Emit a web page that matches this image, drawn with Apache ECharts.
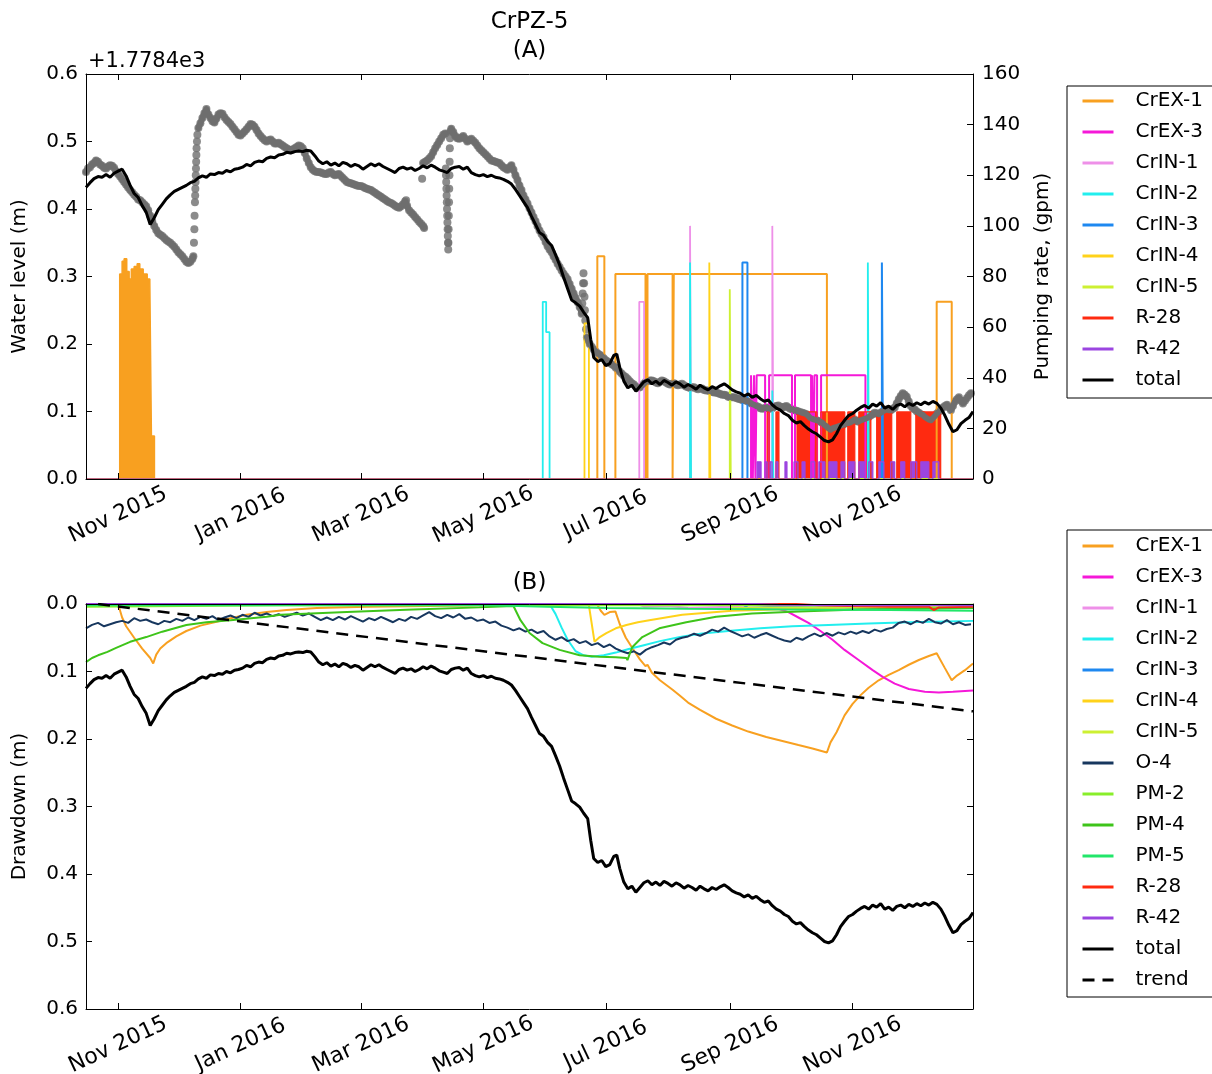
<!DOCTYPE html>
<html><head><meta charset="utf-8">
<script src="https://cdn.jsdelivr.net/npm/echarts@6/dist/echarts.min.js"></script>
<style>html,body{margin:0;padding:0;background:#fff}#c{width:1212px;height:1074px}</style>
</head><body><div id="c"></div>
<script>
// x values are days since 2015-10-16
const tickDays = [16, 77, 137, 198, 259, 321, 382];
const tickLabels = ['Nov 2015','Jan 2016','Mar 2016','May 2016','Jul 2016','Sep 2016','Nov 2016'];
const legendA = ['CrEX-1','CrEX-3','CrIN-1','CrIN-2','CrIN-3','CrIN-4','CrIN-5','R-28','R-42','total'];
const legendB = ['CrEX-1','CrEX-3','CrIN-1','CrIN-2','CrIN-3','CrIN-4','CrIN-5','O-4','PM-2','PM-4','PM-5','R-28','R-42','total','trend'];

// observed water level (m above 1778.4), panel A grey dots, by continuous segment
const obsSeg1 = [[0,.455],[1,.460],[2,.462],[3,.466],[4,.468],[5,.472],[6,.470],[7,.466],[8,.464],[9,.461],[10,.460],[11,.463],[12,.465],[13,.464],[14,.461],[15,.456],[16,.452],[17,.448],[18,.444],[19,.440],[20,.436],[21,.432],[22,.428],[23,.425],[24,.421],[25,.418],[26,.414],[27,.413],[28,.410],[29,.407],[30,.404],[31,.398],[32,.390],[33,.382],[34,.375],[35,.369],[36,.364],[37,.362],[38,.360],[39,.357],[40,.354],[41,.352],[42,.350],[43,.347],[44,.344],[45,.340],[46,.336],[47,.333],[48,.330],[49,.326],[50,.322],[51,.320],[52,.322],[53,.326],[53.5,.330]];
const obsJump1 = [[53.8,.35],[54,.37],[54.1,.39],[54.3,.41],[54.4,.42],[54.5,.43],[54.6,.44],[54.7,.45],[54.8,.46],[54.9,.47],[55,.48],[55.1,.49],[55.3,.50],[55.5,.51]];
const obsSeg2 = [[56,.520],[57,.527],[58,.535],[59,.542],[60,.548],[61,.540],[62,.535],[63,.530],[64,.528],[65,.534],[66,.540],[67,.542],[68,.541],[69,.536],[70,.532],[71,.529],[72,.526],[73,.522],[74,.518],[75,.514],[76,.510],[77,.509],[78,.512],[79,.515],[80,.518],[81,.522],[82,.526],[83,.525],[84,.522],[85,.517],[86,.512],[87,.508],[88,.505],[89,.502],[90,.500],[91,.502],[92,.503],[93,.500],[94,.497],[95,.497],[96,.498],[97,.496],[98,.494],[99,.492],[100,.490],[101,.488],[102,.487],[103,.488],[104,.490],[105,.492],[106,.494],[107,.493],[108,.490],[109,.483],[110,.475],[111,.468],[112,.462],[113,.458],[114,.456],[115,.455],[116,.455],[117,.454],[118,.453],[119,.452],[120,.452],[121,.454],[122,.455],[123,.452],[124,.450],[125,.451],[126,.452],[127,.449],[128,.446],[129,.443],[130,.440],[131,.439],[132,.438],[133,.437],[134,.436],[135,.435],[136,.434],[137,.434],[138,.433],[139,.431],[140,.430],[141,.429],[142,.428],[143,.426],[144,.424],[145,.422],[146,.420],[147,.418],[148,.416],[149,.414],[150,.412],[151,.410],[152,.409],[153,.407],[154,.405],[155,.403],[156,.402],[157,.404],[158,.407],[159,.411],[159.5,.413],[160,.405],[161,.398],[162,.395],[163,.392],[164,.388],[165,.385],[166,.381],[167,.378],[168,.375],[168.5,.372]];
const obsSeg3 = [[168,.468],[169,.470],[170,.472],[171,.475],[172,.478],[173,.484],[174,.490],[175,.495],[176,.500],[177,.505],[178,.510],[179,.512]];
const obsSpots = [[167.5,.445],
[179.3,.46],[179.4,.45],[179.5,.44],[179.6,.43],[179.7,.42],[179.8,.41],[179.9,.40],[180,.39],[180.1,.38],[180.2,.37],[180.3,.36],[180.4,.35],[180.5,.34],[180.6,.35],[180.7,.37],[180.8,.39],[180.9,.41],[181,.43],[181.1,.45],[181.2,.47],[181.3,.49],[181.4,.505],
[247.3,.26],[247.5,.275],[247.7,.29],[247.9,.305],[248.2,.29],[248.4,.27],[248.6,.25],[248.8,.235],[249.2,.222]];
const obsSeg4 = [[181.6,.515],[182,.519],[183,.514],[184,.508],[185,.505],[186,.504],[187,.506],[188,.508],[189,.504],[190,.500],[191,.502],[192,.504],[193,.501],[194,.498],[195,.494],[196,.490],[197,.487],[198,.484],[199,.481],[200,.478],[201,.475],[202,.472],[203,.471],[204,.470],[205,.469],[206,.468],[207,.465],[208,.462],[209,.460],[210,.458],[211,.462],[212,.465],[213,.458],[214,.450],[215,.443],[216,.435],[217,.428],[218,.420],[219,.414],[220,.408],[221,.401],[222,.395],[223,.388],[224,.382],[225,.375],[226,.368],[227,.363],[228,.358],[229,.351],[230,.345],[231,.340],[232,.336],[233,.330],[234,.325],[235,.319],[236,.314],[237,.309],[238,.304],[239,.300],[240,.296],[241,.289],[242,.282],[243,.275],[244,.268],[245,.262],[246,.255],[247,.245]];
const obsSeg5 = [[249.6,.210],[250,.206],[251,.200],[252,.196],[253,.192],[254,.189],[255,.186],[256,.184],[257,.182],[258,.179],[259,.176],[260,.174],[261,.172],[262,.170],[263,.168],[264,.165],[265,.162],[266,.159],[267,.156],[268,.153],[269,.151],[270,.148],[271,.145],[272,.142],[273,.140],[274,.137],[275,.135],[276,.136],[277,.138],[278,.141],[279,.144],[280,.145],[281,.146],[282,.146],[283,.145],[284,.143],[285,.142],[286,.144],[287,.146],[288,.145],[289,.143],[290,.141],[291,.140],[292,.141],[293,.142],[294,.140],[295,.139],[296,.140],[297,.141],[298,.139],[299,.137],[300,.136],[301,.135],[302,.136],[303,.136],[304,.134],[305,.133],[306,.134],[307,.134],[308,.132],[309,.131],[310,.131],[311,.130],[312,.129],[313,.128],[314,.128],[315,.127],[316,.126],[317,.125],[318,.125],[319,.124],[320,.122],[321,.121],[322,.121],[323,.121],[324,.120],[325,.119],[326,.118],[327,.117],[328,.117],[329,.116],[330,.115],[331,.113],[332,.111],[333,.110],[334,.108],[335,.107],[336,.105],[337,.104],[338,.105],[339,.106],[340,.105],[341,.104],[342,.105],[343,.107],[344,.108],[345,.109],[346,.107],[347,.106],[348,.107],[349,.108],[350,.106],[351,.104],[352,.103],[353,.102],[354,.101],[355,.100],[356,.099],[357,.098],[358,.097],[359,.096],[360,.093],[361,.090],[362,.089],[363,.088],[364,.087],[365,.086],[366,.085],[367,.083],[368,.080],[369,.078],[370,.075],[371,.073],[372,.075],[373,.076],[374,.077],[375,.078],[376,.079],[377,.080],[378,.082],[379,.083],[380,.083],[381,.084],[382,.086],[383,.088],[384,.086],[385,.085],[386,.087],[387,.088],[388,.089],[389,.090],[390,.092],[391,.094],[392,.096],[393,.098],[394,.097],[395,.096],[396,.098],[397,.100],[398,.102],[399,.103],[400,.102],[401,.102],[402,.104],[403,.106],[404,.112],[405,.118],[406,.123],[407,.127],[408,.125],[409,.122],[410,.115],[411,.108],[412,.105],[413,.103],[414,.100],[415,.098],[416,.096],[417,.095],[418,.092],[419,.090],[420,.088],[421,.087],[422,.090],[423,.093],[424,.097],[425,.100],[426,.103],[427,.106],[428,.108],[429,.110],[430,.106],[431,.102],[432,.108],[433,.115],[434,.118],[435,.121],[436,.116],[437,.112],[438,.116],[439,.120],[440,.124],[441,.127]];

// modelled total water level (panel A, m above 1778.4)
const totalLevel = [
[0,.432],[2,.439],[4,.445],[6,.448],[8,.447],[10,.451],[12,.447],[14,.453],[16,.456],[18,.459],[20,.449],[22,.435],[24,.423],[26,.417],[28,.405],[30,.395],[32,.377],[34,.387],[36,.399],[38,.407],[40,.415],[42,.421],[44,.426],[46,.429],[48,.432],[50,.435],[52,.439],[54,.441],[56,.446],[58,.449],[60,.447],[62,.452],[64,.451],[66,.454],[68,.453],[70,.457],[72,.455],[74,.459],[76,.460],[78,.462],[80,.466],[82,.464],[84,.469],[86,.471],[88,.470],[90,.475],[92,.477],[94,.476],[96,.480],[98,.481],[100,.484],[102,.483],[104,.485],[106,.486],[108,.485],[110,.487],[112,.486],[114,.479],[116,.471],[118,.467],[120,.470],[122,.465],[124,.468],[126,.464],[128,.469],[130,.467],[132,.463],[134,.466],[136,.464],[138,.459],[140,.463],[142,.467],[144,.464],[146,.467],[148,.463],[150,.460],[152,.457],[154,.454],[156,.460],[158,.462],[160,.459],[162,.461],[164,.457],[166,.460],[168,.464],[170,.461],[172,.465],[174,.462],[176,.458],[178,.456],[180,.454],[182,.460],[184,.462],[186,.463],[188,.459],[190,.462],[192,.454],[194,.451],[196,.449],[198,.451],[200,.448],[202,.450],[204,.447],[206,.446],[208,.444],[210,.441],[212,.437],[214,.429],[216,.420],[218,.411],[220,.402],[222,.389],[224,.377],[226,.365],[228,.361],[230,.352],[232,.346],[234,.332],[236,.317],[238,.299],[240,.282],[242,.265],[244,.261],[246,.256],[248,.247],[250,.239],[251.5,.207],[253,.180],[255,.174],[257,.177],[259,.168],[261,.171],[263,.183],[264.5,.185],[266,.165],[268,.145],[270,.135],[272,.139],[274,.130],[276,.137],[278,.144],[280,.147],[282,.141],[284,.145],[286,.140],[288,.146],[290,.143],[292,.139],[294,.144],[296,.141],[298,.136],[300,.140],[302,.137],[304,.133],[306,.139],[308,.135],[310,.132],[312,.137],[314,.134],[316,.138],[318,.141],[320,.137],[322,.132],[324,.129],[326,.127],[328,.123],[330,.126],[332,.121],[334,.124],[336,.119],[338,.115],[340,.117],[342,.110],[344,.105],[346,.102],[348,.097],[350,.094],[352,.087],[354,.083],[356,.085],[358,.079],[360,.074],[362,.070],[364,.067],[366,.062],[368,.057],[370,.055],[372,.058],[374,.067],[376,.079],[378,.087],[380,.094],[382,.097],[384,.102],[386,.106],[388,.109],[390,.105],[392,.111],[394,.108],[396,.113],[398,.105],[400,.108],[402,.103],[404,.109],[406,.111],[408,.107],[410,.112],[412,.109],[414,.113],[416,.110],[418,.114],[420,.111],[422,.115],[424,.112],[426,.105],[428,.094],[430,.081],[432,.070],[434,.073],[436,.082],[438,.087],[440,.091],[442,.100]
];

// pumping rates (gpm), step values held until next change
const pumpCrEX1 = [[0,0],[254.8,88],[258.3,0],[263.8,81],[278.8,0],[279.8,81],[292.3,0],[292.9,81],[369.2,0],[423.9,70],[431.4,0],[442,0]];
const pumpCrEX1Early = [[0,0],[16.8,81],[18,86],[19,87],[20.3,82],[21.5,79],[22.6,83],[24,84],[25.5,85],[26.8,83],[28.5,81],[30.5,79],[31.8,78],[32.6,17],[34.1,0],[442,0]];
const pumpCrEX3 = [[0,0],[331.4,41],[332.3,0],[332.9,41],[333.6,0],[334.2,41],[338.4,0],[340.4,41],[351.8,0],[353.3,41],[361.3,0],[361.8,41],[362.5,0],[363,41],[364.3,0],[366.3,41],[388.4,0],[442,0]];
const pumpCrIN1 = [[0,0],[275.7,70],[278.1,0],[301,100],[301.5,0],[342,100],[342.5,0],[442,0]];
const pumpCrIN2 = [[0,0],[227.6,70],[229.3,58],[231,0],[301,85.5],[301.5,0],[342,35],[342.5,0],[389.6,85.5],[390.1,0],[442,0]];
const pumpCrIN3 = [[0,0],[327.1,85.5],[329.6,0],[396.6,85.5],[397.2,0],[442,0]];
const pumpCrIN4 = [[0,0],[248.4,61.5],[250.6,0],[310.6,85.5],[311.1,0],[442,0]];
const pumpCrIN5 = [[0,0],[320.8,75],[321.3,0],[442,0]];
const pumpR28 = [[0,0],[339.4,26.5],[340.4,0],[343.8,26.5],[345.3,0],[354.3,26.5],[364.2,0],[366.2,26.5],[378.1,0],[379.6,26.5],[383.1,0],[385.1,26.5],[391.1,0],[394,26.5],[401.5,0],[404,26.5],[411,0],[413.5,26.5],[425.9,0],[442,0]];
const pumpR42 = [[0,0],[334.4,6.8],[336.4,0],[338.4,6.8],[339.4,0],[340.9,6.8],[341.9,0],[343.8,6.8],[344.8,0],[348.3,6.8],[349.3,0],[352.8,6.8],[354.8,0],[356.8,6.8],[358.3,0],[361.3,6.8],[363.2,0],[365.2,6.8],[368.2,0],[370.2,6.8],[374.2,0],[376.2,6.8],[378.1,0],[380.1,6.8],[383.1,0],[385.1,6.8],[388.1,0],[390.1,6.8],[392.1,0],[395.1,6.8],[397.6,0],[401,6.8],[403,0],[406,6.8],[408,0],[411,6.8],[414,0],[416,6.8],[420,0],[422,6.8],[425,0],[442,0]];

// drawdown (m), panel B
const ddCrEX1 = [[0,0],[16,0],[18,.02],[20,.033],[24,.05],[28,.066],[32,.08],[33.5,.088],[35,.075],[37,.066],[40,.058],[45,.048],[50,.040],[57,.032],[64,.027],[72,.021],[80,.016],[90,.012],[100,.009],[115,.006],[140,.004],[170,.003],[200,.002],[240,.0015],[254.8,.001],[256.5,.010],[258.3,.016],[261,.012],[263.8,.011],[266,.030],[269,.050],[272,.064],[276,.082],[278.8,.092],[279.8,.090],[282,.102],[286,.113],[292.3,.127],[292.9,.126],[296,.136],[300,.146],[306,.157],[314,.170],[322,.180],[330,.189],[339,.197],[347,.203],[355,.209],[362,.214],[369.2,.220],[371,.205],[374,.190],[378,.165],[382,.148],[386,.135],[390,.124],[395,.113],[400,.105],[405,.098],[410,.090],[415,.083],[420,.077],[423.9,.073],[428,.095],[431.4,.113],[434,.106],[438,.098],[442,.088]];
const ddCrEX3 = [[0,0],[331,0],[340,.003],[345,.007],[350,.012],[355,.020],[360,.028],[366,.040],[372,.053],[378,.068],[385,.083],[392,.098],[397,.108],[403,.118],[410,.126],[418,.130],[425,.131],[432,.130],[442,.128]];
const ddCrIN1 = [[0,0],[275,0],[278,.004],[290,.003],[301,.006],[320,.004],[342,.006],[380,.004],[442,.003]];
const ddCrIN2 = [[0,0],[231,0],[234,.015],[237,.035],[240,.053],[244,.070],[248,.076],[252,.078],[258,.076],[264,.072],[270,.067],[278,.061],[286,.055],[296,.049],[306,.044],[320,.040],[336,.036],[352,.033],[370,.031],[390,.029],[410,.027],[442,.025]];
const ddCrIN3 = [[0,0],[327,0],[330,.006],[345,.004],[396,.006],[442,.004]];
const ddCrIN4 = [[0,0],[250.5,0],[253.4,.056],[256,.049],[259.3,.043],[264,.036],[269.3,.031],[275,.027],[280.7,.024],[297.1,.016],[322,.010],[355.3,.007],[385,.005],[442,.004]];
const ddCrIN5 = [[0,0],[321,0],[322,.006],[340,.005],[442,.004]];
const ddO4 = [[0,.036],[3,.031],[6,.028],[9,.033],[12,.030],[15,.027],[18,.025],[21,.028],[24,.021],[27,.025],[30,.023],[33,.027],[36,.030],[39,.025],[42,.027],[45,.022],[48,.025],[51,.020],[54,.024],[57,.019],[60,.022],[63,.018],[66,.024],[69,.020],[72,.017],[75,.021],[78,.016],[81,.019],[84,.013],[87,.017],[90,.014],[93,.018],[96,.015],[99,.019],[102,.016],[105,.013],[108,.017],[111,.014],[114,.019],[117,.024],[120,.020],[123,.024],[126,.019],[129,.023],[132,.018],[135,.022],[138,.026],[141,.021],[144,.024],[147,.019],[150,.023],[153,.027],[156,.022],[159,.025],[162,.019],[165,.022],[168,.017],[171,.012],[174,.018],[177,.021],[180,.016],[183,.020],[186,.015],[189,.022],[192,.020],[195,.025],[198,.023],[201,.028],[204,.026],[207,.032],[210,.035],[213,.039],[216,.036],[219,.041],[222,.038],[225,.043],[228,.040],[231,.048],[234,.053],[237,.049],[240,.055],[243,.052],[246,.058],[249,.055],[252,.061],[255,.058],[258,.064],[261,.060],[264,.066],[267,.070],[270,.073],[273,.070],[276,.075],[279,.068],[282,.064],[285,.061],[288,.057],[291,.060],[294,.053],[297,.050],[300,.048],[303,.044],[306,.047],[309,.043],[312,.038],[315,.041],[318,.035],[321,.040],[324,.044],[327,.048],[330,.045],[333,.050],[336,.046],[339,.043],[342,.047],[345,.051],[348,.054],[351,.056],[354,.050],[357,.053],[360,.048],[363,.044],[366,.048],[369,.043],[372,.047],[375,.042],[378,.045],[381,.041],[384,.044],[387,.040],[390,.043],[393,.038],[396,.041],[399,.037],[402,.035],[405,.028],[408,.026],[411,.030],[414,.025],[417,.028],[420,.022],[423,.027],[426,.029],[429,.024],[432,.030],[435,.027],[438,.031],[441,.030]];
const ddPM2 = [[0,.004],[50,.003],[100,.002],[200,.002],[300,.002],[442,.001]];
const ddPM4 = [[0,.086],[3,.080],[6,.076],[10.7,.071],[15,.065],[22,.056],[30,.049],[38,.041],[50,.031],[60,.027],[72,.024],[90,.019],[97,.016],[130,.012],[163,.008],[196,.005],[213,.003],[216.5,.024],[221,.043],[227.5,.058],[236,.068],[246,.076],[255.8,.078],[264,.079],[269.3,.080],[269.8,.083],[272.2,.064],[277.2,.049],[285.7,.036],[299.1,.027],[314,.019],[331.9,.014],[355.3,.011],[385.1,.008],[442,.006]];
const ddPM5 = [[0,.002],[200,.002],[230,.004],[260,.006],[300,.007],[350,.008],[400,.009],[442,.010]];
const ddR28 = [[0,0],[354,0],[365,.002],[380,.003],[400,.004],[420,.004],[422.5,.009],[425,.005],[442,.004]];
const ddR42 = [[0,0],[334,0],[345,.001],[380,.002],[442,.002]];
const ddTotal = [
[0,.125],[2,.118],[4,.112],[6,.109],[8,.110],[10,.106],[12,.110],[14,.104],[16,.101],[18,.098],[20,.108],[22,.122],[24,.134],[26,.140],[28,.152],[30,.162],[32,.180],[34,.170],[36,.158],[38,.150],[40,.142],[42,.136],[44,.131],[46,.128],[48,.125],[50,.122],[52,.118],[54,.116],[56,.111],[58,.108],[60,.110],[62,.105],[64,.106],[66,.103],[68,.104],[70,.100],[72,.102],[74,.098],[76,.097],[78,.095],[80,.091],[82,.093],[84,.088],[86,.086],[88,.087],[90,.082],[92,.080],[94,.081],[96,.077],[98,.076],[100,.073],[102,.074],[104,.072],[106,.071],[108,.072],[110,.070],[112,.071],[114,.078],[116,.086],[118,.090],[120,.087],[122,.092],[124,.089],[126,.093],[128,.088],[130,.090],[132,.094],[134,.091],[136,.093],[138,.098],[140,.094],[142,.090],[144,.093],[146,.090],[148,.094],[150,.097],[152,.100],[154,.103],[156,.097],[158,.095],[160,.098],[162,.096],[164,.100],[166,.097],[168,.093],[170,.096],[172,.092],[174,.095],[176,.099],[178,.101],[180,.103],[182,.097],[184,.095],[186,.094],[188,.098],[190,.095],[192,.103],[194,.106],[196,.108],[198,.106],[200,.109],[202,.107],[204,.110],[206,.111],[208,.113],[210,.116],[212,.120],[214,.128],[216,.137],[218,.146],[220,.155],[222,.168],[224,.180],[226,.192],[228,.196],[230,.205],[232,.211],[234,.225],[236,.240],[238,.258],[240,.275],[242,.292],[244,.296],[246,.301],[248,.310],[250,.318],[251.5,.350],[253,.377],[255,.383],[257,.380],[259,.389],[261,.386],[263,.374],[264.5,.372],[266,.392],[268,.412],[270,.422],[272,.418],[274,.427],[276,.420],[278,.413],[280,.410],[282,.416],[284,.412],[286,.417],[288,.411],[290,.414],[292,.418],[294,.413],[296,.416],[298,.421],[300,.417],[302,.420],[304,.424],[306,.418],[308,.422],[310,.425],[312,.420],[314,.423],[316,.419],[318,.416],[320,.420],[322,.425],[324,.428],[326,.430],[328,.434],[330,.431],[332,.436],[334,.433],[336,.438],[338,.442],[340,.440],[342,.447],[344,.452],[346,.455],[348,.460],[350,.463],[352,.470],[354,.474],[356,.472],[358,.478],[360,.483],[362,.487],[364,.490],[366,.495],[368,.500],[370,.502],[372,.499],[374,.490],[376,.478],[378,.470],[380,.463],[382,.460],[384,.455],[386,.451],[388,.448],[390,.452],[392,.446],[394,.449],[396,.444],[398,.452],[400,.449],[402,.454],[404,.448],[406,.446],[408,.450],[410,.445],[412,.448],[414,.444],[416,.447],[418,.443],[420,.446],[422,.442],[424,.445],[426,.452],[428,.463],[430,.476],[432,.487],[434,.484],[436,.475],[438,.470],[440,.466],[442,.457]
];
const ddTrend = [[6,0],[442,.159]];

const FONT = 'DejaVu Sans';
const GREY = '#6E6E6E';
const C = {
  'CrEX-1':'#F8A020','CrEX-3':'#F518D8','CrIN-1':'#EE90E8','CrIN-2':'#22EEEE','CrIN-3':'#1E88F0',
  'CrIN-4':'#FFD21A','CrIN-5':'#CDF032','O-4':'#17375E','PM-2':'#88EE2A','PM-4':'#3EC41A',
  'PM-5':'#22E66A','R-28':'#FF2A10','R-42':'#9B45E0','total':'#000000','trend':'#000000'
};

function xAx(grid, pos, showLabels) {
  return {
    type:'value', gridIndex:grid, position:pos, min:0, max:442, z:10,
    axisLine:{show:true, onZero:false, lineStyle:{color:'#000', width:1}},
    axisTick:{show:true, inside:true, length:6, customValues:tickDays, lineStyle:{color:'#000'}},
    axisLabel:{show:showLabels, customValues:tickDays,
      formatter:(v)=>{const i=tickDays.indexOf(v); return i>=0?tickLabels[i]:'';},
      rotate:25, align:'center', verticalAlign:'middle', margin:36,
      fontSize:22, fontFamily:FONT, color:'#000'},
    splitLine:{show:false}
  };
}
function yAx(grid, pos, min, max, interval, opts) {
  return Object.assign({
    type:'value', gridIndex:grid, position:pos, min:min, max:max, interval:interval, z:10,
    axisLine:{show:true, onZero:false, lineStyle:{color:'#000', width:1}},
    axisTick:{show:true, inside:true, length:6, lineStyle:{color:'#000'}},
    splitLine:{show:false},
    nameLocation:'middle', nameRotate:90,
    nameTextStyle:{fontSize:20, fontFamily:FONT, color:'#000'}
  }, opts);
}

function pump(name, data, width, fill) {
  const s = {type:'line', name:name, xAxisIndex:0, yAxisIndex:1, data:data, step:'end',
    symbol:'none', showSymbol:false, animation:false, silent:true,
    lineStyle:{color:C[name], width:width}, itemStyle:{color:C[name]}};
  if (fill) s.areaStyle = {color:C[name], opacity:1};
  return s;
}
function dd(name, data, width, dashed) {
  return {type:'line', name:name, xAxisIndex:2, yAxisIndex:2, data:data,
    symbol:'none', showSymbol:false, animation:false, silent:true,
    lineStyle:{color:C[name], width:width, type: dashed ? [12,8] : 'solid'}, itemStyle:{color:C[name]}};
}
function obsBand(data) {
  return {type:'line', name:'observed', xAxisIndex:0, yAxisIndex:0, data:data, symbol:'none', showSymbol:false,
    animation:false, silent:true, lineStyle:{color:GREY, width:6, cap:'round', join:'round'}, itemStyle:{color:GREY}};
}

const obsAll = [].concat(obsSeg1, obsJump1, obsSeg2, obsSeg3, obsSpots, obsSeg4, obsSeg5);

const series = [
  pump('CrEX-1', pumpCrEX1, 2),
  pump('CrEX-1', pumpCrEX1Early, 1.5, true),
  pump('CrEX-3', pumpCrEX3, 2),
  pump('CrIN-1', pumpCrIN1, 1.8),
  pump('CrIN-2', pumpCrIN2, 1.8),
  pump('CrIN-3', pumpCrIN3, 2),
  pump('CrIN-4', pumpCrIN4, 1.8),
  pump('CrIN-5', pumpCrIN5, 1.8),
  pump('R-28', pumpR28, 1.2, true),
  pump('R-42', pumpR42, 1.2, true),
  obsBand(obsSeg1), obsBand(obsSeg2), obsBand(obsSeg3), obsBand(obsSeg4), obsBand(obsSeg5),
  {type:'scatter', name:'observed', xAxisIndex:0, yAxisIndex:0, data:obsAll, symbolSize:8,
   itemStyle:{color:GREY}, animation:false, silent:true},
  {type:'line', name:'total', xAxisIndex:0, yAxisIndex:0, data:totalLevel, symbol:'none', showSymbol:false,
   animation:false, silent:true, lineStyle:{color:'#000', width:3}, itemStyle:{color:'#000'}},
  dd('CrEX-1', ddCrEX1, 2),
  dd('CrEX-3', ddCrEX3, 2),
  dd('CrIN-1', ddCrIN1, 2),
  dd('CrIN-2', ddCrIN2, 2),
  dd('CrIN-3', ddCrIN3, 2),
  dd('CrIN-4', ddCrIN4, 2),
  dd('CrIN-5', ddCrIN5, 2),
  dd('O-4', ddO4, 2),
  dd('PM-2', ddPM2, 2),
  dd('PM-4', ddPM4, 2),
  dd('PM-5', ddPM5, 2),
  dd('R-28', ddR28, 2),
  dd('R-42', ddR42, 2),
  dd('total', ddTotal, 3),
  dd('trend', ddTrend, 2.5, true)
];

function legend(names, top, pad) {
  return {
    orient:'vertical', left:1067, top:top, data:names, selectedMode:false,
    itemWidth:31, itemHeight:14, itemGap:11, padding:pad,
    borderColor:'#000', borderWidth:1, backgroundColor:'#fff', borderRadius:0,
    lineStyle:{width:3},
    itemStyle:{opacity:0, borderWidth:0},
    textStyle:{fontFamily:FONT, fontSize:20, color:'#000', lineHeight:20, padding:[0,0,0,17]}
  };
}

const chart = echarts.init(document.getElementById('c'), null, {renderer:'canvas'});
chart.setOption({
  backgroundColor:'#fff',
  animation:false,
  textStyle:{fontFamily:FONT},
  grid:[
    {left:86, right:239, top:74, height:405, containLabel:false, outerBoundsMode:'none'},
    {left:86, right:239, top:604, height:405, containLabel:false, outerBoundsMode:'none'}
  ],
  xAxis:[ xAx(0,'bottom',true), xAx(0,'top',false), xAx(1,'bottom',true), xAx(1,'top',false) ],
  yAxis:[
    yAx(0,'left',0,0.6,0.1,{name:'Water level (m)', nameGap:56,
      axisLabel:{formatter:(v)=>v.toFixed(1), margin:8, fontSize:20, fontFamily:FONT, color:'#000'}}),
    yAx(0,'right',0,160,20,{name:'Pumping rate, (gpm)', nameGap:60,
      axisLabel:{formatter:(v)=>String(v), margin:9, fontSize:20, fontFamily:FONT, color:'#000'}}),
    yAx(1,'left',0,0.6,0.1,{name:'Drawdown (m)', nameGap:56, inverse:true,
      axisLabel:{formatter:(v)=>v.toFixed(1), margin:8, fontSize:20, fontFamily:FONT, color:'#000'}}),
    yAx(1,'right',0,0.6,0.1,{inverse:true, axisLabel:{show:false}})
  ],
  legend:[ legend(legendA, 86, [5,80,8,14]), legend(legendB, 530, [6,80,7,14]) ],
  graphic:[
    {type:'text', x:529.5, y:22, style:{text:'CrPZ-5', fontSize:23, fontFamily:FONT, fill:'#000', align:'center', verticalAlign:'middle'}},
    {type:'text', x:529.5, y:51, style:{text:'(A)', fontSize:23, fontFamily:FONT, fill:'#000', align:'center', verticalAlign:'middle'}},
    {type:'text', x:529.5, y:583, style:{text:'(B)', fontSize:23, fontFamily:FONT, fill:'#000', align:'center', verticalAlign:'middle'}},
    {type:'text', x:88, y:62, style:{text:'+1.7784e3', fontSize:21, fontFamily:FONT, fill:'#000', align:'left', verticalAlign:'middle'}}
  ],
  series:series
});
</script></body></html>
